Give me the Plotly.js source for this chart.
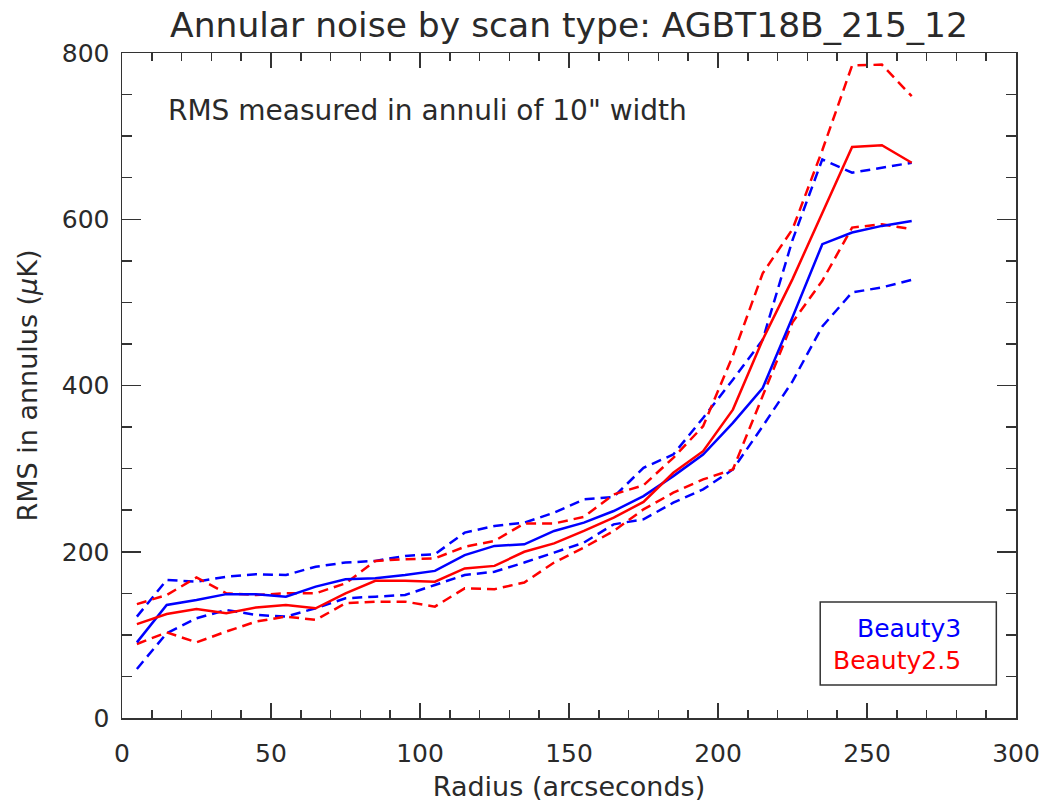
<!DOCTYPE html>
<html>
<head>
<meta charset="utf-8">
<script src="https://cdn.plot.ly/plotly-3.0.1.min.js"></script>
<style>html,body{margin:0;padding:0;background:#fff;}#chart{width:1047px;height:806px;}</style>
</head>
<body>
<div id="chart"></div>
<script>
var radius = [5,15,25,35,45,55,65,75,85,95,105,115,125,135,145,155,165,175,185,195,205,215,225,235,245,255,265];
var beauty3Mean  = [91,136,142,149,149,146,158,167,168,172,177,196,207,209,225,235,249,267,291,317,355,397,482,570,584,592,598];
var beauty3Upper = [122,166,164,170,173,172,182,187,189,195,197,223,231,235,247,263,266,301,317,361,407,455,575,672,656,662,668];
var beauty3Lower = [59,102,120,130,124,122,132,144,146,148,160,172,176,187,199,211,233,239,259,275,299,351,405,471,512,518,527];
var beauty25Mean  = [113,125,131,126,133,136,132,150,165,165,164,180,183,200,210,225,241,260,295,321,371,455,528,608,687,689,668];
var beauty25Upper = [137,148,169,150,148,150,150,162,189,191,192,206,213,234,234,242,269,280,313,351,436,535,588,683,785,786,748];
var beauty25Lower = [89,103,91,104,116,122,118,138,140,140,134,156,155,163,187,205,225,251,271,287,299,387,476,526,590,594,588];
var seriesNames = ["Beauty3","Beauty2.5"];

var BLUE = "#0000ff", RED = "#ff0000";
var FONT = "DejaVu Sans";
var TXT = "#2a2a2a";

function tr(y, color, dashed){
  return {x: radius, y: y, type: "scatter", mode: "lines",
    line: {color: color, width: 2.5, dash: dashed ? "10px,6px" : "solid"},
    hoverinfo: "skip", showlegend: false};
}
var data = [
  tr(beauty3Upper, BLUE, true), tr(beauty3Lower, BLUE, true),
  tr(beauty25Upper, RED, true), tr(beauty25Lower, RED, true),
  tr(beauty3Mean, BLUE, false), tr(beauty25Mean, RED, false)
];

var axisCommon = {
  showgrid: false, zeroline: false, showline: true, linecolor: "#333", linewidth: 1.5,
  mirror: "ticks", ticks: "inside", tickcolor: "#333", tickwidth: 1.5,
  tickfont: {family: FONT, size: 25, color: TXT}
};

var layout = {
  width: 1047, height: 806,
  margin: {l: 122, r: 31, t: 53, b: 88},
  paper_bgcolor: "#fff", plot_bgcolor: "#fff",
  title: {text: "Annular noise by scan type: AGBT18B_215_12", font: {family: FONT, size: 34.5, color: TXT},
    x: 0.5435, xref: "container", xanchor: "center", y: 0.969, yanchor: "middle"},
  xaxis: Object.assign({}, axisCommon, {
    range: [0, 300], tickvals: [0,50,100,150,200,250,300], ticklen: 15,
    ticklabelstandoff: 12,
    minor: {dtick: 10, ticks: "inside", ticklen: 8, tickcolor: "#333", tickwidth: 1.5},
    title: {text: "Radius (arcseconds)", font: {family: FONT, size: 27, color: TXT}, standoff: 10}
  }),
  yaxis: Object.assign({}, axisCommon, {
    range: [0, 800], tickvals: [0,200,400,600,800], ticklen: 19,
    ticklabelstandoff: 6,
    minor: {dtick: 50, ticks: "inside", ticklen: 10, tickcolor: "#333", tickwidth: 1.5},
    title: {text: "RMS in annulus (<i>μ</i>K)", font: {family: FONT, size: 27, color: TXT}, standoff: 16}
  }),
  shapes: [{type: "rect", xref: "paper", yref: "paper", x0: 0.781, x1: 0.978, y0: 0.0496, y1: 0.1744,
    line: {color: "#333", width: 1.5}, fillcolor: "rgba(0,0,0,0)"}],
  annotations: [
    {xref: "paper", yref: "paper", x: 0.049, y: 0.914, xanchor: "left", yanchor: "middle", showarrow: false,
     text: "RMS measured in annuli of 10\" width", font: {family: FONT, size: 28, color: TXT}},
    {xref: "paper", yref: "paper", x: 0.9407, y: 0.135, xanchor: "right", yanchor: "middle", showarrow: false,
     text: seriesNames[0], font: {family: FONT, size: 25, color: BLUE}},
    {xref: "paper", yref: "paper", x: 0.9407, y: 0.087, xanchor: "right", yanchor: "middle", showarrow: false,
     text: seriesNames[1], font: {family: FONT, size: 25, color: RED}}
  ]
};

Plotly.newPlot("chart", data, layout, {displayModeBar: false, staticPlot: true});
</script>
</body>
</html>
